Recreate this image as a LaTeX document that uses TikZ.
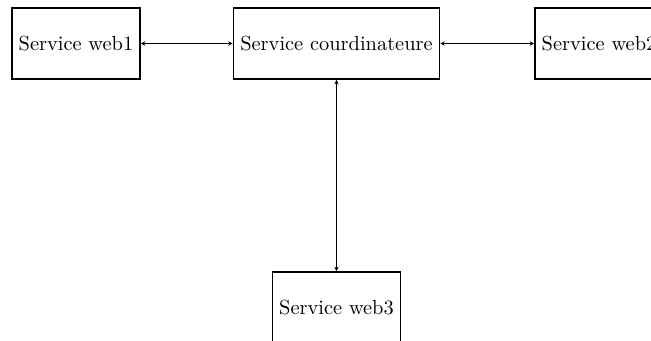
\documentclass[tikz,border=0pt]{standalone}
\usetikzlibrary{arrows.meta}
\begin{document}
\begin{tikzpicture}[x=0.49pt,y=-0.49pt,
  svc/.style={draw,thick,minimum height=34.8pt,inner sep=3.33pt},
  link/.style={semithick,<->,>={Stealth[length=2.2pt,width=2.2pt]}}]
\clip (0,0) rectangle (651,340);
\useasboundingbox (0,0) rectangle (651,340);
\node[svc] (w1) at (76,43.5) {Service web1};
\node[svc] (co) at (336.5,43.5) {Service courdinateure};
\node[svc] (w2) at (599,43.5) {Service web2};
\node[svc] (w3) at (336.5,307.5) {Service web3};
\draw[link] (w1.east) -- (co.west);
\draw[link] (co.east) -- (w2.west);
\draw[link] (co.south) -- (w3.north);
\end{tikzpicture}
\end{document}
